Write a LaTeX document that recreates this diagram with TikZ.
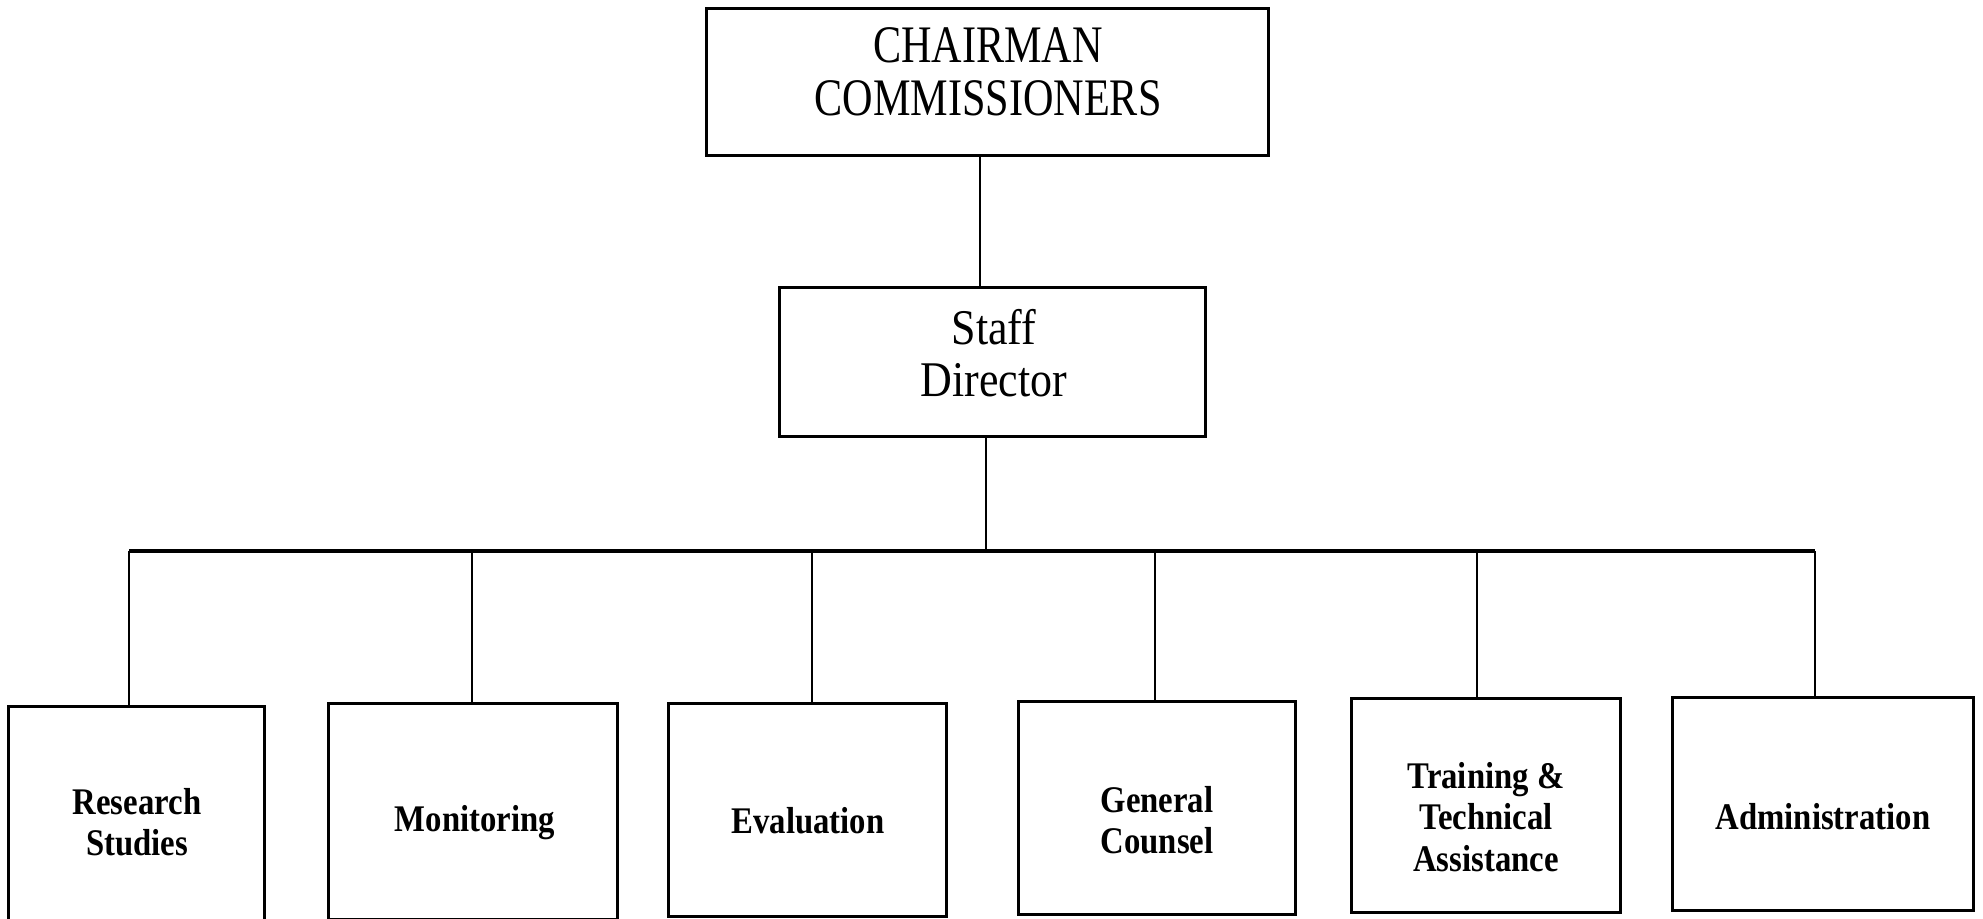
\documentclass[tikz,border=0pt]{standalone}
\usepackage{fontspec}
\setmainfont{Liberation Serif}
\newfontfamily\topfont{Liberation Serif}[FakeStretch=0.8]
\newfontfamily\stafffont{Liberation Serif}[FakeStretch=0.88]
\newfontfamily\boxfont{Liberation Serif}[FakeStretch=0.87]
\begin{document}
\begin{tikzpicture}[x=0.01cm,y=-0.01cm,
  box/.style={draw, line width=0.85pt, rectangle, inner sep=0pt},
  conn/.style={line width=0.5pt},
  bus/.style={line width=1.1pt},
  lbl/.style={align=center, inner sep=0pt}]
\clip (0,0) rectangle (1983,918);
% top level
\node[box, minimum width=5.61cm, minimum height=1.46cm] (chair) at (987.5,82) {};
\node[lbl, font=\topfont\fontsize{15}{15}\selectfont] (chairT) at (988,72) {CHAIRMAN\\COMMISSIONERS};
\node[box, minimum width=4.25cm, minimum height=1.48cm] (staff) at (992.5,362) {};
\node[lbl, font=\stafffont\fontsize{14.2}{14.8}\selectfont] (staffT) at (994,353) {Staff\\Director};
% bottom boxes
\tikzset{bfont/.style={font=\boxfont\bfseries\fontsize{10.7}{11.7}\selectfont}}
\node[box, minimum width=2.55cm, minimum height=2.18cm] (res) at (136.5,816) {};
\node[box, minimum width=2.88cm, minimum height=2.15cm] (mon) at (473,811.5) {};
\node[box, minimum width=2.77cm, minimum height=2.12cm] (eva) at (807.5,810) {};
\node[box, minimum width=2.76cm, minimum height=2.12cm] (gen) at (1157,808) {};
\node[box, minimum width=2.68cm, minimum height=2.13cm] (tra) at (1486,805.5) {};
\node[box, minimum width=3.00cm, minimum height=2.12cm] (adm) at (1823,804) {};
\node[lbl, bfont] (resT) at (137,822) {Research\\Studies};
\node[lbl, bfont] (monT) at (475,823) {Monitoring};
\node[lbl, bfont] (evaT) at (808,821) {Evaluation};
\node[lbl, bfont] (genT) at (1157,820) {General\\Counsel};
\node[lbl, bfont] (traT) at (1486,817) {Training \&\\Technical\\Assistance};
\node[lbl, bfont] (admT) at (1823,817) {Administration};
% connectors
\coordinate (c1) at (980,0);
\coordinate (c2) at (986,0);
\draw[conn] (chair.south -| c1) -- (staff.north -| c1);
\coordinate (bR) at (129,551);
\coordinate (bM) at (472,551);
\coordinate (bE) at (812,551);
\coordinate (bG) at (1155,551);
\coordinate (bT) at (1477,551);
\coordinate (bA) at (1815,551);
\draw[conn] (staff.south -| c2) -- (bR -| c2);
\draw[bus] (bR) -- (bA);
\draw[conn] (bR) -- (bR |- res.north);
\draw[conn] (bM) -- (bM |- mon.north);
\draw[conn] (bE) -- (bE |- eva.north);
\draw[conn] (bG) -- (bG |- gen.north);
\draw[conn] (bT) -- (bT |- tra.north);
\draw[conn] (bA) -- (bA |- adm.north);
\end{tikzpicture}
\end{document}
